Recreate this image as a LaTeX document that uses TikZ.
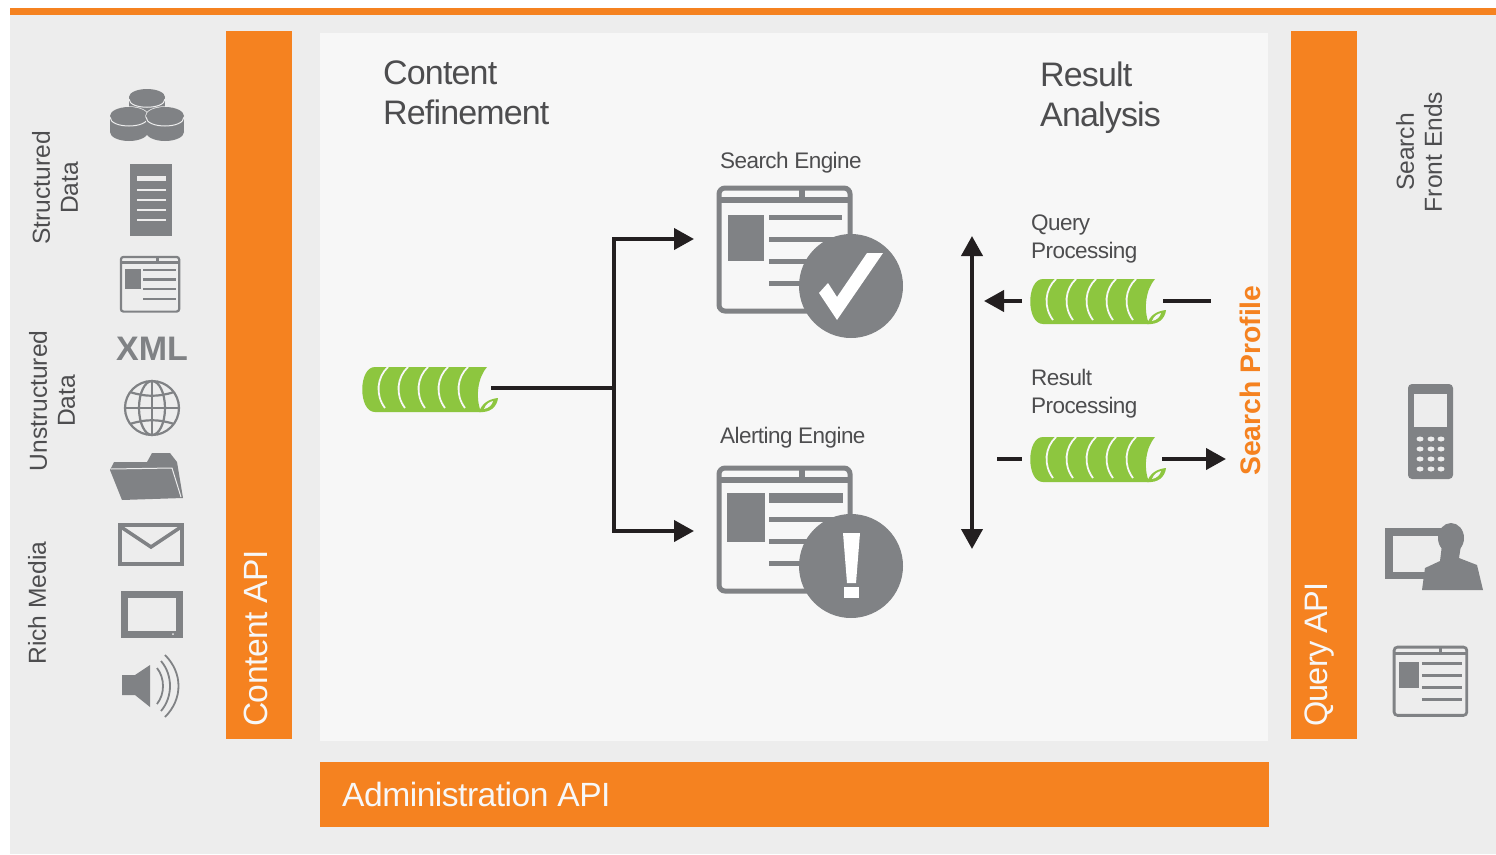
\documentclass[tikz,border=0pt]{standalone}
\usepackage{fontspec}
\setmainfont{Liberation Sans}
\newfontfamily\tightfont[LetterSpace=-2.5]{Liberation Sans}
\newfontfamily\apifont[LetterSpace=-1.5]{Liberation Sans}
\usetikzlibrary{arrows.meta}
\definecolor{iconGrey}{HTML}{808285}
\definecolor{brandOrange}{HTML}{F58220}
\definecolor{coilGreen}{HTML}{8DC63F}
\definecolor{panelGrey}{HTML}{EDEDED}
\definecolor{innerGrey}{HTML}{F7F7F7}
\definecolor{labelGrey}{HTML}{4D4D4F}
\definecolor{conn}{HTML}{231F20}
\tikzset{
  flow/.style={draw=conn,line width=4pt},
  flowarrow/.style={flow,-{Triangle[length=20pt,width=21pt]}},
  bothways/.style={flow,{Triangle[length=20pt,width=21pt]}-{Triangle[length=20pt,width=21pt]}},
  apibar/.style={fill=brandOrange,draw=none,inner sep=0pt},
  apilabel/.style={text=innerGrey,inner sep=0pt,font=\apifont\fontsize{33.6}{38}\selectfont},
  heading/.style={text=labelGrey,inner sep=0pt,align=left,font=\tightfont\fontsize{34}{40}\selectfont},
  sublabel/.style={text=labelGrey,inner sep=0pt,align=left,font=\tightfont\fontsize{22.5}{28}\selectfont},
  sidelabel/.style={text=labelGrey,inner sep=0pt,align=center,rotate=90,font=\fontsize{24.6}{28}\selectfont},
  coilbox/.style={inner sep=0pt,minimum width=135pt,minimum height=45pt,anchor=north west},
}
% window icon: #1 origin, #2 scale
\newcommand{\windowicon}[2]{%
\begin{scope}[shift={(#1)},x=#2pt,y=-#2pt]
  \draw[iconGrey,line width=5*#2 pt,rounded corners=6*#2 pt] (2,2) rectangle (133,125);
  \fill[iconGrey] (2,11) rectangle (133,17);
  \fill[iconGrey] (82,2) rectangle (88,11);
  \fill[iconGrey] (11,29) rectangle (47,75);
  \foreach \yy/\xe in {31/125,53/125,75/125,97/125}
    \draw[iconGrey,line width=5*#2 pt] (52,\yy) -- (\xe,\yy);
\end{scope}}
% coil icon: #1 name, #2 origin
\newcommand{\coilicon}[2]{%
\node[coilbox] (#1) at (#2) {};
\begin{scope}[shift={(#1.north west)}]
  \fill[coilGreen] (13,0) -- (125,0) .. controls (116,10) and (113,30) .. (119,45) -- (13,45)
     .. controls (-4,45) and (-4,0) .. (13,0) -- cycle;
  \fill[coilGreen] (117,45) .. controls (120,36) and (127,32) .. (136,31) .. controls (135,40) and (128,46) .. (117,45) -- cycle;
  \fill[innerGrey] (122,42) .. controls (124,37) and (127,35) .. (131,34) .. controls (130,38) and (127,41) .. (122,42) -- cycle;
  \foreach \xx in {0,20,40,60,80}
    \draw[innerGrey,line width=1.8pt] (\xx+26,0) .. controls (\xx+15,10) and (\xx+13,28) .. (\xx+23,41);
\end{scope}}
\begin{document}
\begin{tikzpicture}[x=1pt,y=-1pt]
\useasboundingbox (0,0) rectangle (1496,854);
\fill[white] (0,0) rectangle (1496,854);
% panels
\fill[panelGrey] (10,15) rectangle (1496,854);
\fill[brandOrange] (10,8) rectangle (1496,15);
\fill[innerGrey] (320,33) rectangle (1268,741);
\node[apibar,minimum width=66pt,minimum height=708pt,anchor=north west] (contentbar) at (226,31) {};
\node[apibar,minimum width=66pt,minimum height=708pt,anchor=north west] (querybar) at (1291,31) {};
\node[apibar,minimum width=949pt,minimum height=65pt,anchor=north west] (adminbar) at (320,762) {};
\node[apilabel,rotate=90,anchor=west] (contentlabel) at (256,727) {Content API};
\node[apilabel,rotate=90,anchor=west,font=\tightfont\fontsize{32.5}{38}\selectfont] (querylabel) at (1320,727) {Query API};
\node[apilabel,anchor=west] (adminlabel) at (342,794) {Administration API};
% headings
\node[heading,anchor=north west] (refine) at (383,61) {Content\\Refinement};
\node[heading,anchor=north west] (analysis) at (1040,62) {Result\\Analysis};
\node[sublabel,anchor=west] (searchlabel) at (720,163) {Search Engine};
\node[sublabel,anchor=west] (alertlabel) at (720,438) {Alerting Engine};
\node[sublabel,anchor=north west] (querytext) at (1031,215) {Query\\Processing};
\node[sublabel,anchor=north west] (resulttext) at (1031,369) {Result\\Processing};
\node[text=brandOrange,inner sep=0pt,rotate=90,anchor=west,font=\fontsize{28.3}{30}\selectfont\bfseries] (profile) at (1250,476) {Search Profile};
% side labels
\node[sidelabel] (structured) at (55,188) {Structured\\Data};
\node[sidelabel] (unstructured) at (52,401) {Unstructured\\Data};
\node[sidelabel] (richmedia) at (37,603) {Rich Media};
\node[sidelabel] (frontends) at (1419,152) {Search\\Front Ends};
% engines
\windowicon{717,186}{1}
\fill[iconGrey] (851,286) circle (52);
\fill[white] (819,293) -- (828,283) -- (837,297) -- (867,253) -- (883,253) -- (837,320) -- cycle;
\windowicon{717,466}{1}
\fill[iconGrey] (727,493) rectangle (765,542);
\fill[iconGrey] (769,493) rectangle (843,503);
\fill[iconGrey] (851,566) circle (52);
\fill[white] (843,533) -- (860,533) -- (856,583) -- (847,583) -- cycle;
\fill[white] (844,587) rectangle (859,598);
% coils
\coilicon{maincoil}{362,367}
\coilicon{querycoil}{1030,279}
\coilicon{resultcoil}{1030,437}
% connectors
\coordinate (split) at (614,388);
\coordinate (toSearch) at (694,239);
\coordinate (toAlert) at (694,531);
\coordinate (axisTop) at (972,236);
\coordinate (axisBottom) at (972,549);
\coordinate (queryOutA) at (1211,301);
\coordinate (queryInA) at (1022,301);
\coordinate (queryInB) at (984,301);
\coordinate (resultInA) at (997,459);
\coordinate (resultInB) at (1022,459);
\coordinate (resultOutB) at (1226,459);
\draw[flow] ([xshift=-6pt]split -| maincoil.east) -- (split);
\draw[flowarrow] (split) |- (toSearch);
\draw[flowarrow] (split) |- (toAlert);
\draw[bothways] (axisTop) -- (axisBottom);
\draw[flow] ([xshift=-2pt]queryOutA -| querycoil.east) -- (queryOutA);
\draw[flowarrow] (queryInA) -- (queryInB);
\draw[flow] (resultInA) -- (resultInB);
\draw[flowarrow] ([xshift=-3pt]resultOutB -| resultcoil.east) -- (resultOutB);
% left icons: database
\begin{scope}[iconGrey]
  \fill (129,97) rectangle (165,108);
  \fill (147,97) ellipse (18 and 8);
  \fill (147,108) ellipse (18 and 8);
  \draw[panelGrey,line width=1pt] (129,99) .. controls (129,110) and (165,110) .. (165,99);
  \foreach \cx in {129,165}{
    \draw[panelGrey,line width=1.5pt,fill=iconGrey] (\cx,116) ellipse (19 and 9);
    \fill (\cx-19,117) rectangle (\cx+19,132);
    \fill (\cx,132) ellipse (19 and 9);
    \fill (\cx,116) ellipse (19 and 9);
    \draw[panelGrey,line width=1pt] (\cx-19,117) .. controls (\cx-19,129) and (\cx+19,129) .. (\cx+19,117);
  }
  % server
  \fill (130,164) rectangle (172,236);
  \draw[panelGrey,line width=5pt] (137,178) -- (166,178);
  \foreach \yy in {190,200,210,220} \draw[panelGrey,line width=1.5pt] (137,\yy) -- (166,\yy);
\end{scope}
\windowicon{120,256}{0.445}
\node[text=iconGrey,inner sep=0pt,font=\fontsize{34}{36}\selectfont\bfseries] (xml) at (152,349) {XML};
% globe
\begin{scope}[iconGrey,line width=2.2pt]
  \draw (152,408) circle (27);
  \draw (152,408) ellipse (13 and 27);
  \draw (152,381) -- (152,435);
  \draw (125,408) -- (179,408);
  \draw (130,392) .. controls (145,397) and (159,397) .. (174,392);
  \draw (130,424) .. controls (145,419) and (159,419) .. (174,424);
\end{scope}
% folder
\fill[iconGrey] (114,462) -- (147,462) -- (152,453) -- (170,453) -- (177,462) -- (183,498) -- (122,500) -- (110,470) -- cycle;
\draw[panelGrey,line width=1pt] (111,469) -- (172,468) -- (181,497);
% mail
\draw[iconGrey,line width=4pt] (120,525) rectangle (182,564);
\draw[iconGrey,line width=3.5pt] (121,527) -- (151,547) -- (181,527);
% tablet
\draw[iconGrey,line width=7pt] (124.5,594.5) rectangle (179.5,634.5);
\fill[panelGrey] (173,634) circle (1);
% speaker
\fill[iconGrey] (122,675) -- (135,675) -- (150,665) -- (150,707) -- (135,695) -- (122,695) -- cycle;
\begin{scope}[iconGrey,line width=1.8pt]
  \draw (157,668) .. controls (165,678) and (165,694) .. (157,704);
  \draw (161,661) .. controls (173,675) and (173,697) .. (161,711);
  \draw (165,655) .. controls (183,673) and (183,699) .. (165,717);
\end{scope}
% phone
\fill[iconGrey,rounded corners=4pt] (1408,384) rectangle (1453,479);
\fill[panelGrey] (1414,394) rectangle (1447,427);
\foreach \kx in {1420,1431,1441}
  \foreach \ky in {439,449,459,469}
    \fill[panelGrey] (\kx,\ky) ellipse (3.5 and 2.5);
% presenter
\fill[iconGrey] (1385,528) rectangle (1442,579);
\fill[panelGrey] (1393,536) rectangle (1442,572);
\fill[iconGrey] (1451,538) ellipse (13 and 15);
\fill[iconGrey] (1422,590) -- (1425,568) -- (1440,561) -- (1442,545) -- (1461,545) -- (1459,558) -- (1477,565) -- (1483,590) -- cycle;
% right window
\windowicon{1393,646}{0.555}
\end{tikzpicture}
\end{document}
